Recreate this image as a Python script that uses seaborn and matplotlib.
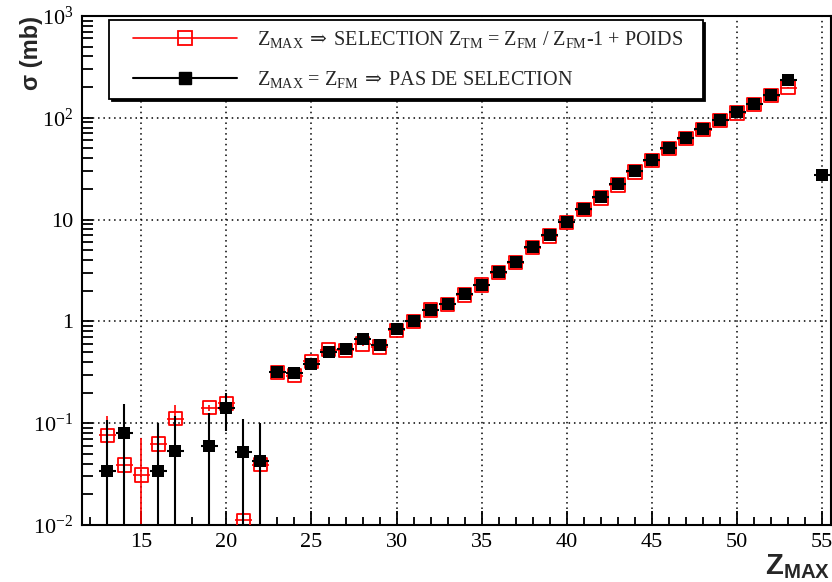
import numpy as np
import pandas as pd
import matplotlib
matplotlib.use("Agg")
import matplotlib.pyplot as plt
import matplotlib.ticker as mticker
from matplotlib.lines import Line2D
from matplotlib.legend_handler import HandlerLine2D
import seaborn as sns

# Z_MAX with selection Z_TM = Z_FM / Z_FM-1 + weights (red, open squares)
z_sel = [13, 14, 15, 16, 17, 19, 20, 21, 22,
         23, 24, 25, 26, 27, 28, 29, 30, 31, 32, 33, 34, 35, 36, 37, 38,
         39, 40, 41, 42, 43, 44, 45, 46, 47, 48, 49, 50, 51, 52, 53]
sig_sel = [0.0759, 0.0388, 0.031, 0.0623, 0.1107, 0.142, 0.157, 0.0111, 0.0391,
           0.316, 0.293, 0.405, 0.527, 0.519, 0.598, 0.56, 0.816, 1.0, 1.29, 1.47,
           1.82, 2.27, 3.0, 3.76, 5.3, 6.9, 9.4, 12.5, 16.3, 21.8, 29.2, 38.0,
           49.5, 62.5, 76.5, 94.0, 111.0, 135.0, 165.0, 198.0]
err_sel = [0.043, 0.006, 0.040, 0.010, 0.039, 0.010, 0.032, 0.002, 0.035,
           0.02, 0.02, 0.02, 0.025, 0.025, 0.03, 0.03, 0.035, 0.04, 0.05, 0.05,
           0.06, 0.07, 0.08, 0.1, 0.12, 0.14, 0.17, 0.2, 0.25, 0.3, 0.35, 0.4,
           0.5, 0.6, 0.7, 0.8, 0.9, 1.0, 1.2, 1.4]

# Z_MAX = Z_FM, no selection (black, filled squares)
z_all = [13, 14, 16, 17, 19, 20, 21, 22,
         23, 24, 25, 26, 27, 28, 29, 30, 31, 32, 33, 34, 35, 36, 37, 38,
         39, 40, 41, 42, 43, 44, 45, 46, 47, 48, 49, 50, 51, 52, 53, 55]
sig_all = [0.0338, 0.080, 0.0338, 0.0532, 0.0596, 0.1407, 0.0516, 0.0424,
           0.316, 0.311, 0.384, 0.50, 0.531, 0.666, 0.581, 0.834, 1.0, 1.30, 1.49,
           1.84, 2.29, 3.03, 3.80, 5.37, 7.0, 9.53, 12.7, 16.6, 22.2, 29.7, 38.7,
           50.0, 63.1, 77.4, 95.6, 114.0, 137.0, 169.0, 233.0, 27.2]
err_all = [0.074, 0.073, 0.067, 0.064, 0.065, 0.057, 0.058, 0.058,
           0.02, 0.02, 0.02, 0.025, 0.025, 0.03, 0.03, 0.035, 0.04, 0.05, 0.05,
           0.06, 0.07, 0.08, 0.1, 0.12, 0.14, 0.17, 0.2, 0.25, 0.3, 0.35, 0.4,
           0.5, 0.6, 0.7, 0.8, 0.9, 1.0, 1.2, 1.5, 0.5]

y_ticks = [1e-2, 1e-1, 1, 10, 1e2, 1e3]
y_ticklabels = [r'$\mathrm{10^{-2}}$', r'$\mathrm{10^{-1}}$', '1', '10',
                r'$\mathrm{10^{2}}$', r'$\mathrm{10^{3}}$']
x_ticks = [15, 20, 25, 30, 35, 40, 45, 50, 55]

arrow = r'$\;\mathsf{\Rightarrow}\;$'
lab_sel = (r'$\mathrm{Z_{MAX}}$' + arrow + r'SELECTION $\mathrm{Z_{TM}}$ = '
           r'$\mathrm{Z_{FM}}$ / $\mathrm{Z_{FM}}$-1 + POIDS')
lab_all = r'$\mathrm{Z_{MAX}}$ = $\mathrm{Z_{FM}}$' + arrow + 'PAS DE SELECTION'

df_sel = pd.DataFrame({'z': z_sel, 'sigma': sig_sel, 'err': err_sel})
df_all = pd.DataFrame({'z': z_all, 'sigma': sig_all, 'err': err_all})

sns.set_style("ticks")
plt.rcParams['font.family'] = ['Liberation Serif', 'DejaVu Serif']
plt.rcParams['mathtext.fontset'] = 'custom'
plt.rcParams['mathtext.rm'] = 'Liberation Serif'
plt.rcParams['mathtext.it'] = 'Liberation Serif:italic'
plt.rcParams['mathtext.bf'] = 'Liberation Sans:bold'
plt.rcParams['mathtext.sf'] = 'DejaVu Serif'

fig = plt.figure(figsize=(8.32, 5.82), dpi=100)
ax = fig.add_axes([0.0982, 0.0979, 0.9002, 0.8748])

# red series: error bars then open squares
ax.errorbar(df_sel['z'], df_sel['sigma'], yerr=df_sel['err'], xerr=0.5,
            fmt='none', ecolor='red', elinewidth=1.2, capsize=0, zorder=2)
sns.scatterplot(data=df_sel, x='z', y='sigma', marker='s', s=92, color='red',
                linewidth=1.3, ax=ax, zorder=3, legend=False)
ax.collections[-1].set_facecolor('none')
ax.collections[-1].set_edgecolor('red')

# black series on top
ax.errorbar(df_all['z'], df_all['sigma'], yerr=df_all['err'], xerr=0.5,
            fmt='none', ecolor='black', elinewidth=1.5, capsize=0, zorder=4)
sns.scatterplot(data=df_all, x='z', y='sigma', marker='s', s=76, color='black',
                edgecolor='black', linewidth=0, ax=ax, zorder=5, legend=False)

ax.set_yscale('log')
ax.set_xlim(11.5, 55.5)
ax.set_ylim(1e-2, 1e3)

ax.set_xticks(x_ticks)
ax.set_xticklabels([str(t) for t in x_ticks])
ax.xaxis.set_minor_locator(mticker.MultipleLocator(1))
ax.set_yticks(y_ticks)
ax.set_yticklabels(y_ticklabels)
ax.yaxis.set_minor_locator(mticker.LogLocator(base=10, subs=np.arange(2, 10)))
ax.yaxis.set_minor_formatter(mticker.NullFormatter())

ax.tick_params(axis='both', which='both', direction='in', colors='black',
               labelsize=16, top=False, right=False, width=1.3)
ax.tick_params(axis='x', which='major', length=10, pad=6)
ax.tick_params(axis='x', which='minor', length=6)
ax.tick_params(axis='y', which='major', length=8, pad=6)
ax.tick_params(axis='y', which='minor', length=8)

for sp in ax.spines.values():
    sp.set_color('black')
    sp.set_linewidth(1.5)

ax.grid(True, which='major', color='black', linestyle=(0, (1, 2.5)),
        linewidth=1.1)
ax.set_axisbelow(True)

ax.set_ylabel('σ (mb)', family='Liberation Sans', fontweight='bold',
              fontsize=17, loc='top')
ax.yaxis.set_label_coords(-0.052, 1.0)
ax.set_xlabel(r'$\mathbf{Z_{MAX}}$', fontsize=21, loc='right', labelpad=0)

h_sel = Line2D([0], [0], color='red', lw=1.2, marker='s', ms=9.6,
               mfc='none', mec='red', mew=1.3)
h_all = Line2D([0], [0], color='black', lw=1.5, marker='s', ms=8.7,
               mfc='black', mec='black')
leg = ax.legend([h_sel, h_all], [lab_sel, lab_all], loc='upper left',
                bbox_to_anchor=(0.037, 0.992, 0.792, 0), mode='expand',
                fontsize=14.5, frameon=True, fancybox=False,
                shadow={'color': 'black', 'alpha': 1},
                handler_map={h_sel: HandlerLine2D(xpad=0.74),
                             h_all: HandlerLine2D(xpad=0.74)},
                handlelength=5.9, handletextpad=0.99, labelspacing=0.92,
                borderpad=0.45, borderaxespad=0)
leg.get_frame().set_edgecolor('black')
leg.get_frame().set_linewidth(1.3)
leg.get_frame().set_alpha(1)

fig.savefig('out.png', dpi=100)
